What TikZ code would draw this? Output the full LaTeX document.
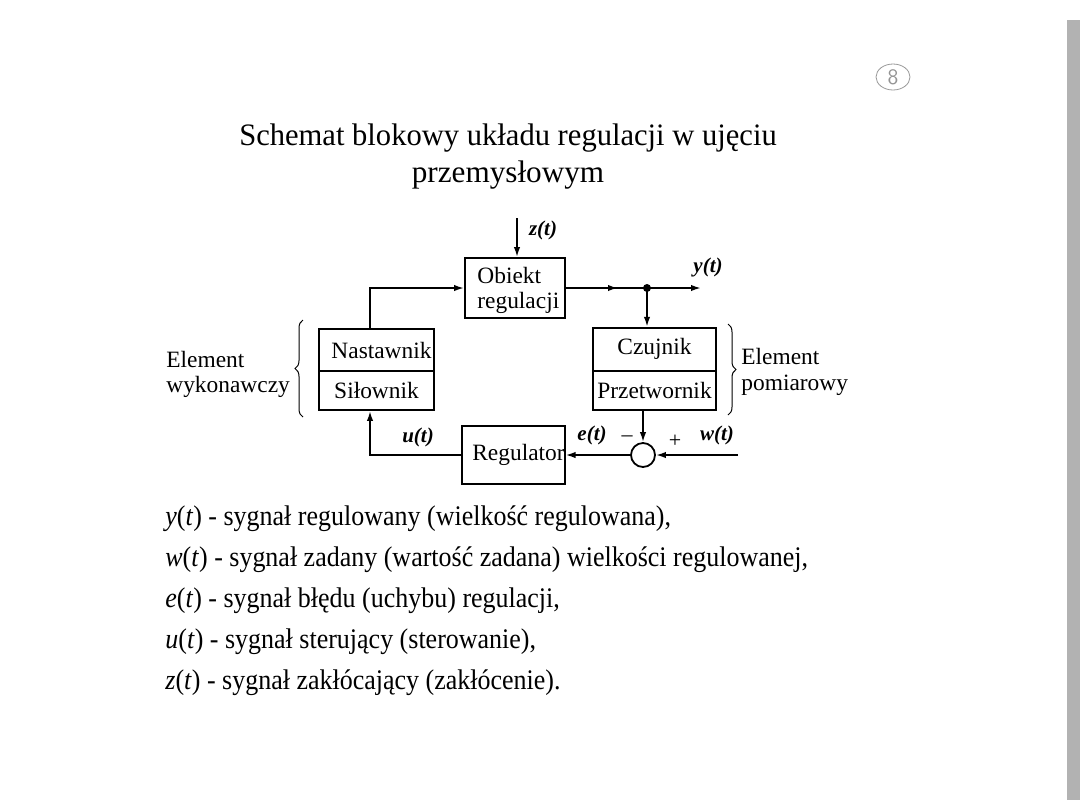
\documentclass[tikz,border=0pt]{standalone}
\usepackage{fontspec}
\setmainfont{Liberation Serif}
\usetikzlibrary{arrows.meta,decorations.pathreplacing,shapes.geometric}
\tikzset{
  ln/.style={line width=0.9pt},
  arr/.style={line width=0.9pt,-{Latex[length=5pt,width=3.2pt]}},
  box/.style={draw,line width=0.9pt,inner sep=0pt,font=\fontsize{11.7}{13}\selectfont},
  sig/.style={font=\fontsize{10.5}{12}\selectfont\bfseries\itshape,inner sep=0pt},
  txt/.style={font=\fontsize{11.7}{14}\selectfont,inner sep=0pt,anchor=west},
  leg/.style={font=\fontsize{14.2}{16}\selectfont,inner sep=0pt,anchor=west},
  brc/.style={decorate,decoration={brace,amplitude=4pt},line width=0.5pt}
}
\newcommand{\lgx}[1]{\scalebox{0.915}[1]{#1}}
\begin{document}
\begin{tikzpicture}[x=0.5pt,y=-0.5pt]
\useasboundingbox (0,0) rectangle (1080,810);
\fill[white] (0,0) rectangle (1080,810);
% scan edge
\fill[gray!60] (1067,20) rectangle (1080,800);
% page number
\node[draw=gray!80,ellipse,line width=0.4pt,minimum width=17pt,minimum height=13pt,inner sep=0pt,text=gray!85,font=\sffamily\fontsize{11}{11}\selectfont] (pg) at (893,77) {8};
% title
\node[font=\fontsize{15.6}{18.5}\selectfont,align=center,inner sep=0pt] (title) at (508,157) {\scalebox{0.98}[1]{Schemat blokowy układu regulacji w ujęciu}\\przemysłowym};
% blocks
\node[box,minimum width=50pt,minimum height=30pt] (obj) at (515,288) {};
\node[txt] (objt1) at (477,275) {Obiekt};
\node[txt] (objt2) at (477,303) {regulacji};
\node[box,minimum width=57.5pt,minimum height=21pt] (nast) at (376.5,350) {\hspace*{5pt}Nastawnik};
\node[box,minimum width=57.5pt,minimum height=19.5pt] (silo) at (376.5,390.5) {Siłownik};
\node[box,minimum width=61.5pt,minimum height=21.5pt] (czuj) at (654.5,349.25) {Czujnik};
\node[box,minimum width=61.5pt,minimum height=19.5pt] (prze) at (654.5,390.5) {Przetwornik};
\node[box,minimum width=49.5pt,minimum height=29pt] (reg) at (513.5,455) {\hspace*{5pt}Regulator};
\node[draw,circle,line width=0.9pt,minimum size=12pt,inner sep=0pt] (sum) at (643,455) {};
% coordinates
\coordinate (zin) at (517,218);
\coordinate (mid) at (618,288);
\coordinate (dot) at (647,288);
\coordinate (yend) at (701,288);
\coordinate (win) at (738,455);
\coordinate (ul) at (370,455);
\coordinate (nl) at (370,288);
% connectors
\draw[arr] (zin) -- (zin |- obj.north);
\draw[ln] (obj.east |- mid) -- (dot);
\draw[arr] (obj.east |- mid) -- (mid);
\draw[arr] (dot) -- (yend);
\fill (dot) circle (2pt);
\draw[arr] (dot) -- (dot |- czuj.north);
\draw[arr] (sum.north |- prze.south) -- (sum.north);
\draw[arr] (win) -- (sum.east);
\draw[arr] (sum.west) -- (reg.east |- sum.west);
\draw[arr] (reg.west |- ul) -- (ul) -- (ul |- silo.south);
\draw[arr] (nl |- nast.north) -- (nl) -- (obj.west |- nl);
% signal labels
\node[sig] (zl) at (543,230) {z(t)};
\node[sig] (yl) at (708,267) {y(t)};
\node[sig] (ul2) at (418,437) {u(t)};
\node[sig] (el) at (592,435) {e(t)};
\node[sig] (wl) at (717,435) {w(t)};
\node[font=\fontsize{11}{12}\selectfont,inner sep=0pt] (minus) at (627,439) {--};
\node[font=\fontsize{11}{12}\selectfont,inner sep=0pt] (plus) at (675,441) {+};
% braces
\draw[brc] (303,417) -- (303,320);
\draw[brc] (728,324) -- (728,415);
\node[txt] (lw1) at (166,359) {Element};
\node[txt] (lw2) at (166,387) {wykonawczy};
\node[txt] (lp1) at (741,356) {Element};
\node[txt] (lp2) at (741,385) {pomiarowy};
% legend
\node[leg] (l1) at (165,519) {\lgx{\textit{y}(\textit{t}) - sygnał regulowany (wielkość regulowana),}};
\node[leg] (l2) at (165,560) {\lgx{\textit{w}(\textit{t}) - sygnał zadany (wartość zadana) wielkości regulowanej,}};
\node[leg] (l3) at (165,601) {\lgx{\textit{e}(\textit{t}) - sygnał błędu (uchybu) regulacji,}};
\node[leg] (l4) at (165,642) {\lgx{\textit{u}(\textit{t}) - sygnał sterujący (sterowanie),}};
\node[leg] (l5) at (165,683) {\lgx{\textit{z}(\textit{t}) - sygnał zakłócający (zakłócenie).}};
\end{tikzpicture}
\end{document}
